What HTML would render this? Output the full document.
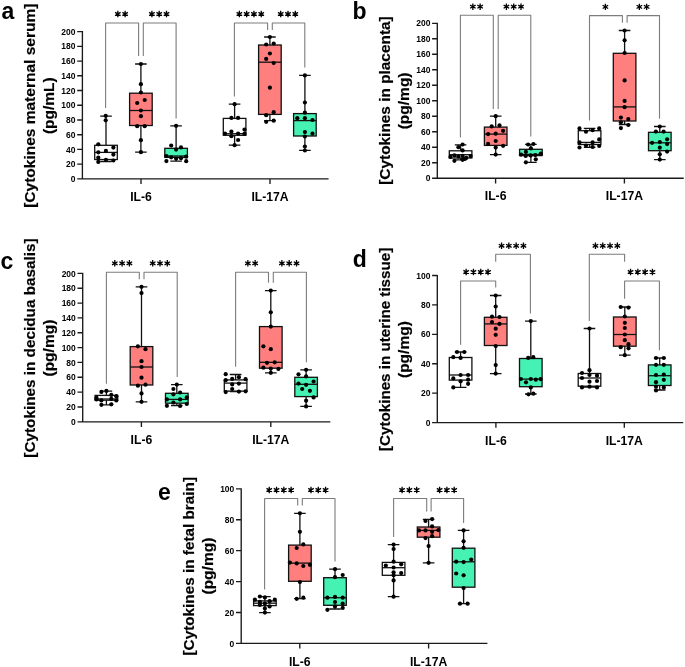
<!DOCTYPE html>
<html><head><meta charset="utf-8"><style>
html,body{margin:0;padding:0;background:#fff;width:685px;height:667px;overflow:hidden}
svg{display:block;will-change:transform}
text{font-family:"Liberation Sans", sans-serif;font-weight:bold;fill:#000}
.L{font-size:23px}
.Y{font-size:15.35px;text-anchor:middle;stroke:#000;stroke-width:0.18px}
.T{font-size:8.5px;text-anchor:end}
.X{font-size:12.2px;text-anchor:middle}
.ax{fill:none;stroke:#1a1a1a;stroke-width:1.35}
.br{fill:none;stroke:#7c7c7c;stroke-width:1.1;stroke-linejoin:round}
.st{fill:none;stroke:#000;stroke-width:1.3;stroke-linecap:butt}
.wk{fill:none;stroke:#111;stroke-width:1.3}
.bx{stroke:#111;stroke-width:1.3}
circle{fill:#000}
</style></head><body>
<svg width="685" height="667" viewBox="0 0 685 667">
<text x="1.6" y="18.6" class="L">a</text>
<text transform="translate(35,105.75) rotate(-90)" class="Y" style="font-size:15.5px">[Cytokines maternal serum]</text>
<text transform="translate(54.2,105.7) rotate(-90)" class="Y" style="font-size:15.5px">(pg/mL)</text>
<text transform="translate(75.5,182) scale(1,1.12)" class="T">0</text>
<text transform="translate(75.5,167.27) scale(1,1.12)" class="T">20</text>
<text transform="translate(75.5,152.54) scale(1,1.12)" class="T">40</text>
<text transform="translate(75.5,137.81) scale(1,1.12)" class="T">60</text>
<text transform="translate(75.5,123.08) scale(1,1.12)" class="T">80</text>
<text transform="translate(75.5,108.35) scale(1,1.12)" class="T">100</text>
<text transform="translate(75.5,93.62) scale(1,1.12)" class="T">120</text>
<text transform="translate(75.5,78.89) scale(1,1.12)" class="T">140</text>
<text transform="translate(75.5,64.16) scale(1,1.12)" class="T">160</text>
<text transform="translate(75.5,49.43) scale(1,1.12)" class="T">180</text>
<text transform="translate(75.5,34.7) scale(1,1.12)" class="T">200</text>
<text x="141" y="201" class="X">IL-6</text>
<text x="270" y="201" class="X">IL-17A</text>
<path d="M77.2 178.9H82.4M77.2 164.17H82.4M77.2 149.44H82.4M77.2 134.71H82.4M77.2 119.98H82.4M77.2 105.25H82.4M77.2 90.52H82.4M77.2 75.79H82.4M77.2 61.06H82.4M77.2 46.33H82.4M77.2 31.6H82.4M82.4 31V178.9M77.2 178.9H328.6M141 178.9V184.1M270 178.9V184.1" class="ax"/>
<path d="M105.6 108V23H138.6V56.1M143.3 56.1V23H176.1V118.4M234.4 96.6V23H267.6V30M272.3 30V23H304.8V67.4" class="br"/>
<path d="M117.85 10.8L117.85 17.2M115.08 12.4L120.62 15.6M115.08 15.6L120.62 12.4M125.15 10.8L125.15 17.2M122.38 12.4L127.92 15.6M122.38 15.6L127.92 12.4M151.9 10.8L151.9 17.2M149.13 12.4L154.67 15.6M149.13 15.6L154.67 12.4M159.2 10.8L159.2 17.2M156.43 12.4L161.97 15.6M156.43 15.6L161.97 12.4M166.5 10.8L166.5 17.2M163.73 12.4L169.27 15.6M163.73 15.6L169.27 12.4M239.35 10.8L239.35 17.2M236.58 12.4L242.12 15.6M236.58 15.6L242.12 12.4M246.65 10.8L246.65 17.2M243.88 12.4L249.42 15.6M243.88 15.6L249.42 12.4M253.95 10.8L253.95 17.2M251.18 12.4L256.72 15.6M251.18 15.6L256.72 12.4M261.25 10.8L261.25 17.2M258.48 12.4L264.02 15.6M258.48 15.6L264.02 12.4M280.7 10.8L280.7 17.2M277.93 12.4L283.47 15.6M277.93 15.6L283.47 12.4M288 10.8L288 17.2M285.23 12.4L290.77 15.6M285.23 15.6L290.77 12.4M295.3 10.8L295.3 17.2M292.53 12.4L298.07 15.6M292.53 15.6L298.07 12.4" class="st"/>
<circle cx="117.85" cy="14" r="1.05"/>
<circle cx="125.15" cy="14" r="1.05"/>
<circle cx="151.9" cy="14" r="1.05"/>
<circle cx="159.2" cy="14" r="1.05"/>
<circle cx="166.5" cy="14" r="1.05"/>
<circle cx="239.35" cy="14" r="1.05"/>
<circle cx="246.65" cy="14" r="1.05"/>
<circle cx="253.95" cy="14" r="1.05"/>
<circle cx="261.25" cy="14" r="1.05"/>
<circle cx="280.7" cy="14" r="1.05"/>
<circle cx="288" cy="14" r="1.05"/>
<circle cx="295.3" cy="14" r="1.05"/>
<path d="M106 116.2V145.3M106 159.5V161.5M100.2 116.2H111.8M100.2 161.5H111.8" class="wk"/>
<rect x="94.7" y="145.3" width="22.6" height="14.2" fill="#FFFFFF" class="bx"/>
<path d="M94.7 152.4H117.3" class="wk"/>
<circle cx="105.7" cy="115.8" r="2.1"/>
<circle cx="105.7" cy="120.3" r="2.1"/>
<circle cx="98.3" cy="144.3" r="2.1"/>
<circle cx="113.4" cy="147.6" r="2.1"/>
<circle cx="98.3" cy="152.3" r="2.1"/>
<circle cx="105.9" cy="150.9" r="2.1"/>
<circle cx="113.4" cy="154.6" r="2.1"/>
<circle cx="98.3" cy="157.5" r="2.1"/>
<circle cx="98.3" cy="161.9" r="2.1"/>
<circle cx="105.9" cy="159.8" r="2.1"/>
<circle cx="113.4" cy="160.5" r="2.1"/>
<path d="M140.9 64V93.2M140.9 125.5V152.2M135.1 64H146.7M135.1 152.2H146.7" class="wk"/>
<rect x="129.6" y="93.2" width="22.6" height="32.3" fill="#FF7F7F" class="bx"/>
<path d="M129.6 110.5H152.2" class="wk"/>
<circle cx="140.9" cy="64" r="2.1"/>
<circle cx="140.9" cy="84.2" r="2.1"/>
<circle cx="140.9" cy="92.5" r="2.1"/>
<circle cx="137.2" cy="103" r="2.1"/>
<circle cx="144.7" cy="100" r="2.1"/>
<circle cx="140.9" cy="110.5" r="2.1"/>
<circle cx="140.9" cy="116.2" r="2.1"/>
<circle cx="137.2" cy="126.2" r="2.1"/>
<circle cx="144.7" cy="126.2" r="2.1"/>
<circle cx="140.9" cy="140.2" r="2.1"/>
<circle cx="140.9" cy="152.2" r="2.1"/>
<path d="M176.1 125.8V148.3M176.1 157.4V161.2M170.3 125.8H181.9M170.3 161.2H181.9" class="wk"/>
<rect x="164.8" y="148.3" width="22.6" height="9.1" fill="#45F2B3" class="bx"/>
<path d="M164.8 156H187.4" class="wk"/>
<circle cx="176.1" cy="125.8" r="2.1"/>
<circle cx="171.2" cy="145.5" r="2.1"/>
<circle cx="181" cy="147.4" r="2.1"/>
<circle cx="176.1" cy="149.6" r="2.1"/>
<circle cx="166.4" cy="156" r="2.1"/>
<circle cx="171.2" cy="157.3" r="2.1"/>
<circle cx="176.1" cy="158.6" r="2.1"/>
<circle cx="181" cy="158.2" r="2.1"/>
<circle cx="186.2" cy="156.7" r="2.1"/>
<circle cx="166.4" cy="161.1" r="2.1"/>
<circle cx="186.2" cy="161.2" r="2.1"/>
<path d="M234.6 104.2V118.4M234.6 135.3V145.2M228.8 104.2H240.4M228.8 145.2H240.4" class="wk"/>
<rect x="223.3" y="118.4" width="22.6" height="16.9" fill="#FFFFFF" class="bx"/>
<path d="M223.3 133.7H245.9" class="wk"/>
<circle cx="234.6" cy="104.2" r="2.1"/>
<circle cx="231.4" cy="117.9" r="2.1"/>
<circle cx="238.1" cy="117.9" r="2.1"/>
<circle cx="244.5" cy="129.6" r="2.1"/>
<circle cx="225" cy="133.5" r="2.1"/>
<circle cx="231.4" cy="131.5" r="2.1"/>
<circle cx="238.1" cy="133.5" r="2.1"/>
<circle cx="244.5" cy="133.9" r="2.1"/>
<circle cx="231.4" cy="136.2" r="2.1"/>
<circle cx="238.1" cy="140" r="2.1"/>
<circle cx="234.6" cy="145.2" r="2.1"/>
<path d="M269.9 37V45M269.9 114.4V120.7M264.1 37H275.7M264.1 120.7H275.7" class="wk"/>
<rect x="258.6" y="45" width="22.6" height="69.4" fill="#FF7F7F" class="bx"/>
<path d="M258.6 62.2H281.2" class="wk"/>
<circle cx="269.9" cy="37" r="2.1"/>
<circle cx="266.2" cy="44.5" r="2.1"/>
<circle cx="273.7" cy="43.5" r="2.1"/>
<circle cx="269.9" cy="53.5" r="2.1"/>
<circle cx="266.2" cy="58.9" r="2.1"/>
<circle cx="273.7" cy="63" r="2.1"/>
<circle cx="269.9" cy="87.7" r="2.1"/>
<circle cx="273.7" cy="112.2" r="2.1"/>
<circle cx="266.2" cy="115.2" r="2.1"/>
<circle cx="266.2" cy="121.8" r="2.1"/>
<circle cx="273.7" cy="120.7" r="2.1"/>
<path d="M304.9 75.4V113.6M304.9 136V150.3M299.1 75.4H310.7M299.1 150.3H310.7" class="wk"/>
<rect x="293.6" y="113.6" width="22.6" height="22.4" fill="#45F2B3" class="bx"/>
<path d="M293.6 120.6H316.2" class="wk"/>
<circle cx="304.9" cy="75.4" r="2.1"/>
<circle cx="304.9" cy="102.5" r="2.1"/>
<circle cx="304.9" cy="112.7" r="2.1"/>
<circle cx="297.3" cy="118.2" r="2.1"/>
<circle cx="304.9" cy="118.2" r="2.1"/>
<circle cx="312.5" cy="120" r="2.1"/>
<circle cx="304.9" cy="132.1" r="2.1"/>
<circle cx="312.5" cy="133.7" r="2.1"/>
<circle cx="304.9" cy="136.5" r="2.1"/>
<circle cx="304.9" cy="146.5" r="2.1"/>
<circle cx="304.9" cy="150.5" r="2.1"/>
<text x="352.6" y="18.8" class="L">b</text>
<text transform="translate(389.7,100.55) rotate(-90)" class="Y" style="font-size:15.4px">[Cytokines in placenta]</text>
<text transform="translate(408.8,100.9) rotate(-90)" class="Y" style="font-size:15.5px">(pg/mg)</text>
<text transform="translate(430.4,181.3) scale(1,1.12)" class="T">0</text>
<text transform="translate(430.4,165.81) scale(1,1.12)" class="T">20</text>
<text transform="translate(430.4,150.32) scale(1,1.12)" class="T">40</text>
<text transform="translate(430.4,134.83) scale(1,1.12)" class="T">60</text>
<text transform="translate(430.4,119.34) scale(1,1.12)" class="T">80</text>
<text transform="translate(430.4,103.85) scale(1,1.12)" class="T">100</text>
<text transform="translate(430.4,88.36) scale(1,1.12)" class="T">120</text>
<text transform="translate(430.4,72.87) scale(1,1.12)" class="T">140</text>
<text transform="translate(430.4,57.38) scale(1,1.12)" class="T">160</text>
<text transform="translate(430.4,41.89) scale(1,1.12)" class="T">180</text>
<text transform="translate(430.4,26.4) scale(1,1.12)" class="T">200</text>
<text x="495.6" y="200.3" class="X">IL-6</text>
<text x="624.4" y="200.3" class="X">IL-17A</text>
<path d="M432.1 178.2H437.3M432.1 162.71H437.3M432.1 147.22H437.3M432.1 131.73H437.3M432.1 116.24H437.3M432.1 100.75H437.3M432.1 85.26H437.3M432.1 69.77H437.3M432.1 54.28H437.3M432.1 38.79H437.3M432.1 23.3H437.3M437.3 22.7V178.2M432.1 178.2H683.7M495.6 178.2V183.4M624.4 178.2V183.4" class="ax"/>
<path d="M460.4 137.6V15.3H493.3V108.9M498.2 108.9V15.3H530.8V136.6M589.5 120.6V15.6H622.4V22.7M627.1 22.7V15.6H659.5V118.8" class="br"/>
<path d="M472.85 3.5L472.85 9.9M470.08 5.1L475.62 8.3M470.08 8.3L475.62 5.1M480.15 3.5L480.15 9.9M477.38 5.1L482.92 8.3M477.38 8.3L482.92 5.1M506.4 3.5L506.4 9.9M503.63 5.1L509.17 8.3M503.63 8.3L509.17 5.1M513.7 3.5L513.7 9.9M510.93 5.1L516.47 8.3M510.93 8.3L516.47 5.1M521 3.5L521 9.9M518.23 5.1L523.77 8.3M518.23 8.3L523.77 5.1M605.4 3.7L605.4 10.1M602.63 5.3L608.17 8.5M602.63 8.5L608.17 5.3M639.35 3.7L639.35 10.1M636.58 5.3L642.12 8.5M636.58 8.5L642.12 5.3M646.65 3.7L646.65 10.1M643.88 5.3L649.42 8.5M643.88 8.5L649.42 5.3" class="st"/>
<circle cx="472.85" cy="6.7" r="1.05"/>
<circle cx="480.15" cy="6.7" r="1.05"/>
<circle cx="506.4" cy="6.7" r="1.05"/>
<circle cx="513.7" cy="6.7" r="1.05"/>
<circle cx="521" cy="6.7" r="1.05"/>
<circle cx="605.4" cy="6.9" r="1.05"/>
<circle cx="639.35" cy="6.9" r="1.05"/>
<circle cx="646.65" cy="6.9" r="1.05"/>
<path d="M460.6 144.8V150.8M460.6 158V159.9M454.8 144.8H466.4M454.8 159.9H466.4" class="wk"/>
<rect x="449.3" y="150.8" width="22.6" height="7.2" fill="#FFFFFF" class="bx"/>
<path d="M449.3 154.7H471.9" class="wk"/>
<circle cx="462.6" cy="144.5" r="2.1"/>
<circle cx="458.4" cy="147.2" r="2.1"/>
<circle cx="462.6" cy="150.4" r="2.1"/>
<circle cx="450.5" cy="156.9" r="2.1"/>
<circle cx="454.4" cy="155.4" r="2.1"/>
<circle cx="458.4" cy="156.6" r="2.1"/>
<circle cx="462.6" cy="155.9" r="2.1"/>
<circle cx="466.3" cy="157.9" r="2.1"/>
<circle cx="470.6" cy="156.1" r="2.1"/>
<circle cx="454.4" cy="160.8" r="2.1"/>
<circle cx="462.6" cy="159.8" r="2.1"/>
<circle cx="464.8" cy="158.8" r="2.1"/>
<path d="M495.7 116.2V127.1M495.7 145.4V154.6M489.9 116.2H501.5M489.9 154.6H501.5" class="wk"/>
<rect x="484.4" y="127.1" width="22.6" height="18.3" fill="#FF7F7F" class="bx"/>
<path d="M484.4 134.1H507" class="wk"/>
<circle cx="495.7" cy="116.2" r="2.1"/>
<circle cx="491.7" cy="126.4" r="2.1"/>
<circle cx="499.5" cy="125.4" r="2.1"/>
<circle cx="503.1" cy="130.8" r="2.1"/>
<circle cx="488.1" cy="134.1" r="2.1"/>
<circle cx="495.7" cy="133.7" r="2.1"/>
<circle cx="495.7" cy="141" r="2.1"/>
<circle cx="488.1" cy="143.9" r="2.1"/>
<circle cx="503.1" cy="145.8" r="2.1"/>
<circle cx="495.7" cy="147.6" r="2.1"/>
<circle cx="495.7" cy="154.6" r="2.1"/>
<path d="M530.9 144.4V149.3M530.9 155.6V162.3M525.1 144.4H536.7M525.1 162.3H536.7" class="wk"/>
<rect x="519.6" y="149.3" width="22.6" height="6.3" fill="#45F2B3" class="bx"/>
<path d="M519.6 154.5H542.2" class="wk"/>
<circle cx="528.1" cy="144.5" r="2.1"/>
<circle cx="533.4" cy="144" r="2.1"/>
<circle cx="530.9" cy="148.4" r="2.1"/>
<circle cx="525.9" cy="151.9" r="2.1"/>
<circle cx="521" cy="154.6" r="2.1"/>
<circle cx="525.7" cy="155.9" r="2.1"/>
<circle cx="530.6" cy="155.4" r="2.1"/>
<circle cx="535.3" cy="155.1" r="2.1"/>
<circle cx="540.8" cy="153.6" r="2.1"/>
<circle cx="535.8" cy="159.3" r="2.1"/>
<circle cx="525.9" cy="162.3" r="2.1"/>
<path d="M589.6 128.4V130.7M589.6 144.5V147.3M583.8 128.4H595.4M583.8 147.3H595.4" class="wk"/>
<rect x="578.3" y="130.7" width="22.6" height="13.8" fill="#FFFFFF" class="bx"/>
<path d="M578.3 142.4H600.9" class="wk"/>
<circle cx="579.5" cy="128.4" r="2.1"/>
<circle cx="599.2" cy="128.4" r="2.1"/>
<circle cx="586" cy="131.7" r="2.1"/>
<circle cx="592.6" cy="130.2" r="2.1"/>
<circle cx="599.2" cy="139.4" r="2.1"/>
<circle cx="579.5" cy="142.4" r="2.1"/>
<circle cx="592.6" cy="142.4" r="2.1"/>
<circle cx="579.5" cy="147.5" r="2.1"/>
<circle cx="586" cy="145.5" r="2.1"/>
<circle cx="592.6" cy="147" r="2.1"/>
<circle cx="599.2" cy="146" r="2.1"/>
<path d="M624.6 30.5V53.3M624.6 121V124.5M618.8 30.5H630.4M618.8 124.5H630.4" class="wk"/>
<rect x="613.3" y="53.3" width="22.6" height="67.7" fill="#FF7F7F" class="bx"/>
<path d="M613.3 106.9H635.9" class="wk"/>
<circle cx="624.6" cy="30.5" r="2.1"/>
<circle cx="624.6" cy="40.3" r="2.1"/>
<circle cx="624.6" cy="53" r="2.1"/>
<circle cx="624.6" cy="80.4" r="2.1"/>
<circle cx="624.6" cy="100.9" r="2.1"/>
<circle cx="624.6" cy="107.2" r="2.1"/>
<circle cx="620.9" cy="117.6" r="2.1"/>
<circle cx="628.3" cy="119.1" r="2.1"/>
<circle cx="620.9" cy="122.3" r="2.1"/>
<circle cx="628.3" cy="125" r="2.1"/>
<circle cx="620.9" cy="128.1" r="2.1"/>
<path d="M659.8 126.5V132.3M659.8 150.7V159.6M654 126.5H665.6M654 159.6H665.6" class="wk"/>
<rect x="648.5" y="132.3" width="22.6" height="18.4" fill="#45F2B3" class="bx"/>
<path d="M648.5 142.8H671.1" class="wk"/>
<circle cx="659.8" cy="126.5" r="2.1"/>
<circle cx="655.9" cy="131.6" r="2.1"/>
<circle cx="663.6" cy="131.6" r="2.1"/>
<circle cx="667.1" cy="139.3" r="2.1"/>
<circle cx="652.1" cy="142.8" r="2.1"/>
<circle cx="659.8" cy="142.1" r="2.1"/>
<circle cx="667.1" cy="144.1" r="2.1"/>
<circle cx="659.8" cy="147.7" r="2.1"/>
<circle cx="667.1" cy="151.6" r="2.1"/>
<circle cx="659.8" cy="154.3" r="2.1"/>
<circle cx="659.8" cy="159.6" r="2.1"/>
<text x="0.6" y="268.8" class="L">c</text>
<text transform="translate(35.3,348.05) rotate(-90)" class="Y" style="font-size:15.3px">[Cytokines in decidua basalis]</text>
<text transform="translate(54.1,348.1) rotate(-90)" class="Y" style="font-size:15.5px">(pg/mg)</text>
<text transform="translate(75.8,424.9) scale(1,1.12)" class="T">0</text>
<text transform="translate(75.8,410.06) scale(1,1.12)" class="T">20</text>
<text transform="translate(75.8,395.22) scale(1,1.12)" class="T">40</text>
<text transform="translate(75.8,380.38) scale(1,1.12)" class="T">60</text>
<text transform="translate(75.8,365.54) scale(1,1.12)" class="T">80</text>
<text transform="translate(75.8,350.7) scale(1,1.12)" class="T">100</text>
<text transform="translate(75.8,335.86) scale(1,1.12)" class="T">120</text>
<text transform="translate(75.8,321.02) scale(1,1.12)" class="T">140</text>
<text transform="translate(75.8,306.18) scale(1,1.12)" class="T">160</text>
<text transform="translate(75.8,291.34) scale(1,1.12)" class="T">180</text>
<text transform="translate(75.8,276.5) scale(1,1.12)" class="T">200</text>
<text x="141.4" y="443.9" class="X">IL-6</text>
<text x="270.8" y="443.9" class="X">IL-17A</text>
<path d="M77.5 421.8H82.7M77.5 406.96H82.7M77.5 392.12H82.7M77.5 377.28H82.7M77.5 362.44H82.7M77.5 347.6H82.7M77.5 332.76H82.7M77.5 317.92H82.7M77.5 303.08H82.7M77.5 288.24H82.7M77.5 273.4H82.7M82.7 272.8V421.8M77.5 421.8H330.3M141.4 421.8V427M270.8 421.8V427" class="ax"/>
<path d="M106.4 383.8V272.2H139.3V279.2M144 279.2V272.2H177.2V377M235.6 366.7V272.2H268.5V282.8M273.3 282.8V272.2H306.4V362.3" class="br"/>
<path d="M114.8 260.1L114.8 266.5M112.03 261.7L117.57 264.9M112.03 264.9L117.57 261.7M122.1 260.1L122.1 266.5M119.33 261.7L124.87 264.9M119.33 264.9L124.87 261.7M129.4 260.1L129.4 266.5M126.63 261.7L132.17 264.9M126.63 264.9L132.17 261.7M152.7 260.1L152.7 266.5M149.93 261.7L155.47 264.9M149.93 264.9L155.47 261.7M160 260.1L160 266.5M157.23 261.7L162.77 264.9M157.23 264.9L162.77 261.7M167.3 260.1L167.3 266.5M164.53 261.7L170.07 264.9M164.53 264.9L170.07 261.7M247.85 260.1L247.85 266.5M245.08 261.7L250.62 264.9M245.08 264.9L250.62 261.7M255.15 260.1L255.15 266.5M252.38 261.7L257.92 264.9M252.38 264.9L257.92 261.7M281.9 260.1L281.9 266.5M279.13 261.7L284.67 264.9M279.13 264.9L284.67 261.7M289.2 260.1L289.2 266.5M286.43 261.7L291.97 264.9M286.43 264.9L291.97 261.7M296.5 260.1L296.5 266.5M293.73 261.7L299.27 264.9M293.73 264.9L299.27 261.7" class="st"/>
<circle cx="114.8" cy="263.3" r="1.05"/>
<circle cx="122.1" cy="263.3" r="1.05"/>
<circle cx="129.4" cy="263.3" r="1.05"/>
<circle cx="152.7" cy="263.3" r="1.05"/>
<circle cx="160" cy="263.3" r="1.05"/>
<circle cx="167.3" cy="263.3" r="1.05"/>
<circle cx="247.85" cy="263.3" r="1.05"/>
<circle cx="255.15" cy="263.3" r="1.05"/>
<circle cx="281.9" cy="263.3" r="1.05"/>
<circle cx="289.2" cy="263.3" r="1.05"/>
<circle cx="296.5" cy="263.3" r="1.05"/>
<path d="M106.4 391.2V395.4M106.4 400.2V404.8M100.6 391.2H112.2M100.6 404.8H112.2" class="wk"/>
<rect x="95.1" y="395.4" width="22.6" height="4.8" fill="#FFFFFF" class="bx"/>
<path d="M95.1 399H117.7" class="wk"/>
<circle cx="101.4" cy="391.9" r="2.1"/>
<circle cx="106.4" cy="390.9" r="2.1"/>
<circle cx="111.3" cy="394.9" r="2.1"/>
<circle cx="116.3" cy="396.2" r="2.1"/>
<circle cx="96.5" cy="397.9" r="2.1"/>
<circle cx="96.5" cy="399.4" r="2.1"/>
<circle cx="111.3" cy="398.9" r="2.1"/>
<circle cx="116.3" cy="400.4" r="2.1"/>
<circle cx="101.4" cy="404.8" r="2.1"/>
<circle cx="111.3" cy="404.3" r="2.1"/>
<circle cx="101.4" cy="400.4" r="2.1"/>
<path d="M141.5 286.8V346.6M141.5 385V401.8M135.7 286.8H147.3M135.7 401.8H147.3" class="wk"/>
<rect x="130.2" y="346.6" width="22.6" height="38.4" fill="#FF7F7F" class="bx"/>
<path d="M130.2 367H152.8" class="wk"/>
<circle cx="141.5" cy="286.8" r="2.1"/>
<circle cx="141.5" cy="293.1" r="2.1"/>
<circle cx="137.9" cy="346.3" r="2.1"/>
<circle cx="145.5" cy="349.2" r="2.1"/>
<circle cx="141.5" cy="361.2" r="2.1"/>
<circle cx="141.5" cy="367" r="2.1"/>
<circle cx="141.5" cy="377.7" r="2.1"/>
<circle cx="137.9" cy="385.7" r="2.1"/>
<circle cx="145.5" cy="384.7" r="2.1"/>
<circle cx="141.5" cy="393.4" r="2.1"/>
<circle cx="141.5" cy="401.8" r="2.1"/>
<path d="M176.8 384.6V393.3M176.8 403.2V405.5M171 384.6H182.6M171 405.5H182.6" class="wk"/>
<rect x="165.5" y="393.3" width="22.6" height="9.9" fill="#45F2B3" class="bx"/>
<path d="M165.5 399.4H188.1" class="wk"/>
<circle cx="176.8" cy="384.6" r="2.1"/>
<circle cx="173.4" cy="389" r="2.1"/>
<circle cx="180.1" cy="392.5" r="2.1"/>
<circle cx="173.4" cy="394.3" r="2.1"/>
<circle cx="186.8" cy="397.4" r="2.1"/>
<circle cx="166.9" cy="399.4" r="2.1"/>
<circle cx="180.1" cy="399.4" r="2.1"/>
<circle cx="173.4" cy="402.5" r="2.1"/>
<circle cx="166.9" cy="405.8" r="2.1"/>
<circle cx="180.1" cy="406" r="2.1"/>
<circle cx="186.8" cy="404" r="2.1"/>
<path d="M235.6 374.5V379.9M235.6 391.1V391.6M229.8 374.5H241.4M229.8 391.6H241.4" class="wk"/>
<rect x="224.3" y="379.9" width="22.6" height="11.2" fill="#FFFFFF" class="bx"/>
<path d="M224.3 383.1H246.9" class="wk"/>
<circle cx="225.7" cy="374.2" r="2.1"/>
<circle cx="225.7" cy="380.2" r="2.1"/>
<circle cx="232.2" cy="378.9" r="2.1"/>
<circle cx="238.9" cy="377.2" r="2.1"/>
<circle cx="245.6" cy="379.2" r="2.1"/>
<circle cx="238.9" cy="383.6" r="2.1"/>
<circle cx="232.2" cy="384.4" r="2.1"/>
<circle cx="232.2" cy="389.1" r="2.1"/>
<circle cx="225.7" cy="392.1" r="2.1"/>
<circle cx="238.9" cy="391.6" r="2.1"/>
<circle cx="245.6" cy="391.3" r="2.1"/>
<path d="M270.8 290.6V326.6M270.8 368.2V372.8M265 290.6H276.6M265 372.8H276.6" class="wk"/>
<rect x="259.5" y="326.6" width="22.6" height="41.6" fill="#FF7F7F" class="bx"/>
<path d="M259.5 362.3H282.1" class="wk"/>
<circle cx="270.8" cy="290.6" r="2.1"/>
<circle cx="270.8" cy="312.3" r="2.1"/>
<circle cx="270.8" cy="326.6" r="2.1"/>
<circle cx="263.4" cy="346.3" r="2.1"/>
<circle cx="270.8" cy="349.2" r="2.1"/>
<circle cx="267" cy="362.8" r="2.1"/>
<circle cx="274.7" cy="362.3" r="2.1"/>
<circle cx="263.4" cy="367.7" r="2.1"/>
<circle cx="270.8" cy="368.6" r="2.1"/>
<circle cx="278.4" cy="368.9" r="2.1"/>
<circle cx="270.8" cy="372.8" r="2.1"/>
<path d="M306.1 369.8V377.3M306.1 396.6V406.4M300.3 369.8H311.9M300.3 406.4H311.9" class="wk"/>
<rect x="294.8" y="377.3" width="22.6" height="19.3" fill="#45F2B3" class="bx"/>
<path d="M294.8 384.3H317.4" class="wk"/>
<circle cx="306.1" cy="369.8" r="2.1"/>
<circle cx="298.5" cy="374.3" r="2.1"/>
<circle cx="306.1" cy="376.4" r="2.1"/>
<circle cx="313.6" cy="381.5" r="2.1"/>
<circle cx="298.5" cy="383.6" r="2.1"/>
<circle cx="306.1" cy="384.8" r="2.1"/>
<circle cx="302.2" cy="389" r="2.1"/>
<circle cx="309.9" cy="390.8" r="2.1"/>
<circle cx="313.6" cy="397.4" r="2.1"/>
<circle cx="306.1" cy="400.7" r="2.1"/>
<circle cx="306.1" cy="406.4" r="2.1"/>
<text x="352.8" y="267.4" class="L">d</text>
<text transform="translate(389.5,349.4) rotate(-90)" class="Y" style="font-size:15.2px">[Cytokines in uterine tissue]</text>
<text transform="translate(408.8,349.6) rotate(-90)" class="Y" style="font-size:15.5px">(pg/mg)</text>
<text transform="translate(430.4,425.7) scale(1,1.12)" class="T">0</text>
<text transform="translate(430.4,396.28) scale(1,1.12)" class="T">20</text>
<text transform="translate(430.4,366.86) scale(1,1.12)" class="T">40</text>
<text transform="translate(430.4,337.44) scale(1,1.12)" class="T">60</text>
<text transform="translate(430.4,308.02) scale(1,1.12)" class="T">80</text>
<text transform="translate(430.4,278.6) scale(1,1.12)" class="T">100</text>
<text x="495.9" y="444.7" class="X">IL-6</text>
<text x="624.3" y="444.7" class="X">IL-17A</text>
<path d="M432.1 422.6H437.3M432.1 393.18H437.3M432.1 363.76H437.3M432.1 334.34H437.3M432.1 304.92H437.3M432.1 275.5H437.3M437.3 274.9V422.6M432.1 422.6H683.2M495.9 422.6V427.8M624.3 422.6V427.8" class="ax"/>
<path d="M460.6 344.7V281H495.7V287.6M495.7 261.7V254.3H530.4V313.6M589.3 321V254.3H624.6V261.7M624.6 298.8V281H659.4V350.2" class="br"/>
<path d="M466.15 268.8L466.15 275.2M463.38 270.4L468.92 273.6M463.38 273.6L468.92 270.4M473.45 268.8L473.45 275.2M470.68 270.4L476.22 273.6M470.68 273.6L476.22 270.4M480.75 268.8L480.75 275.2M477.98 270.4L483.52 273.6M477.98 273.6L483.52 270.4M488.05 268.8L488.05 275.2M485.28 270.4L490.82 273.6M485.28 273.6L490.82 270.4M501.55 242.6L501.55 249M498.78 244.2L504.32 247.4M498.78 247.4L504.32 244.2M508.85 242.6L508.85 249M506.08 244.2L511.62 247.4M506.08 247.4L511.62 244.2M516.15 242.6L516.15 249M513.38 244.2L518.92 247.4M513.38 247.4L518.92 244.2M523.45 242.6L523.45 249M520.68 244.2L526.22 247.4M520.68 247.4L526.22 244.2M595.45 242.6L595.45 249M592.68 244.2L598.22 247.4M592.68 247.4L598.22 244.2M602.75 242.6L602.75 249M599.98 244.2L605.52 247.4M599.98 247.4L605.52 244.2M610.05 242.6L610.05 249M607.28 244.2L612.82 247.4M607.28 247.4L612.82 244.2M617.35 242.6L617.35 249M614.58 244.2L620.12 247.4M614.58 247.4L620.12 244.2M630.55 268.8L630.55 275.2M627.78 270.4L633.32 273.6M627.78 273.6L633.32 270.4M637.85 268.8L637.85 275.2M635.08 270.4L640.62 273.6M635.08 273.6L640.62 270.4M645.15 268.8L645.15 275.2M642.38 270.4L647.92 273.6M642.38 273.6L647.92 270.4M652.45 268.8L652.45 275.2M649.68 270.4L655.22 273.6M649.68 273.6L655.22 270.4" class="st"/>
<circle cx="466.15" cy="272" r="1.05"/>
<circle cx="473.45" cy="272" r="1.05"/>
<circle cx="480.75" cy="272" r="1.05"/>
<circle cx="488.05" cy="272" r="1.05"/>
<circle cx="501.55" cy="245.8" r="1.05"/>
<circle cx="508.85" cy="245.8" r="1.05"/>
<circle cx="516.15" cy="245.8" r="1.05"/>
<circle cx="523.45" cy="245.8" r="1.05"/>
<circle cx="595.45" cy="245.8" r="1.05"/>
<circle cx="602.75" cy="245.8" r="1.05"/>
<circle cx="610.05" cy="245.8" r="1.05"/>
<circle cx="617.35" cy="245.8" r="1.05"/>
<circle cx="630.55" cy="272" r="1.05"/>
<circle cx="637.85" cy="272" r="1.05"/>
<circle cx="645.15" cy="272" r="1.05"/>
<circle cx="652.45" cy="272" r="1.05"/>
<path d="M460.6 352V357.5M460.6 380.1V387.4M454.8 352H466.4M454.8 387.4H466.4" class="wk"/>
<rect x="449.3" y="357.5" width="22.6" height="22.6" fill="#FFFFFF" class="bx"/>
<path d="M449.3 375H471.9" class="wk"/>
<circle cx="457" cy="352" r="2.1"/>
<circle cx="464.3" cy="352" r="2.1"/>
<circle cx="453.3" cy="357.2" r="2.1"/>
<circle cx="460.6" cy="357.9" r="2.1"/>
<circle cx="460.6" cy="375" r="2.1"/>
<circle cx="468.1" cy="375" r="2.1"/>
<circle cx="453.3" cy="378.4" r="2.1"/>
<circle cx="460.6" cy="381.3" r="2.1"/>
<circle cx="468.1" cy="379.7" r="2.1"/>
<circle cx="468.1" cy="383.8" r="2.1"/>
<circle cx="453.3" cy="387.4" r="2.1"/>
<path d="M495.7 295.5V317.3M495.7 345.5V373.6M489.9 295.5H501.5M489.9 373.6H501.5" class="wk"/>
<rect x="484.4" y="317.3" width="22.6" height="28.2" fill="#FF7F7F" class="bx"/>
<path d="M484.4 323.9H507" class="wk"/>
<circle cx="495.7" cy="295.5" r="2.1"/>
<circle cx="495.7" cy="306.5" r="2.1"/>
<circle cx="492" cy="316.7" r="2.1"/>
<circle cx="499.5" cy="317" r="2.1"/>
<circle cx="492" cy="322.1" r="2.1"/>
<circle cx="499.5" cy="323.9" r="2.1"/>
<circle cx="495.7" cy="328.7" r="2.1"/>
<circle cx="495.7" cy="334.8" r="2.1"/>
<circle cx="495.7" cy="346.1" r="2.1"/>
<circle cx="495.7" cy="365.1" r="2.1"/>
<circle cx="495.7" cy="373.6" r="2.1"/>
<path d="M530.8 321.1V358.5M530.8 386.7V394M525 321.1H536.6M525 394H536.6" class="wk"/>
<rect x="519.5" y="358.5" width="22.6" height="28.2" fill="#45F2B3" class="bx"/>
<path d="M519.5 379.1H542.1" class="wk"/>
<circle cx="530.8" cy="321.1" r="2.1"/>
<circle cx="528.2" cy="357.9" r="2.1"/>
<circle cx="533.3" cy="357.2" r="2.1"/>
<circle cx="520.9" cy="379" r="2.1"/>
<circle cx="530.8" cy="379" r="2.1"/>
<circle cx="535.8" cy="379.7" r="2.1"/>
<circle cx="540.6" cy="379.1" r="2.1"/>
<circle cx="526" cy="382.3" r="2.1"/>
<circle cx="530.8" cy="387.4" r="2.1"/>
<circle cx="528.5" cy="394.3" r="2.1"/>
<circle cx="533.3" cy="393.7" r="2.1"/>
<path d="M589.5 328.5V373.5M589.5 386.2V387M583.7 328.5H595.3M583.7 387H595.3" class="wk"/>
<rect x="578.2" y="373.5" width="22.6" height="12.7" fill="#FFFFFF" class="bx"/>
<path d="M578.2 378H600.8" class="wk"/>
<circle cx="589.5" cy="328.5" r="2.1"/>
<circle cx="589.5" cy="370.2" r="2.1"/>
<circle cx="582" cy="373" r="2.1"/>
<circle cx="589.5" cy="375" r="2.1"/>
<circle cx="597" cy="375.7" r="2.1"/>
<circle cx="582" cy="378" r="2.1"/>
<circle cx="589.5" cy="381.7" r="2.1"/>
<circle cx="597" cy="381" r="2.1"/>
<circle cx="582" cy="387.4" r="2.1"/>
<circle cx="589.5" cy="386.7" r="2.1"/>
<circle cx="597" cy="387.4" r="2.1"/>
<path d="M624.8 307V317M624.8 346.2V355.2M619 307H630.6M619 355.2H630.6" class="wk"/>
<rect x="613.5" y="317" width="22.6" height="29.2" fill="#FF7F7F" class="bx"/>
<path d="M613.5 334.5H636.1" class="wk"/>
<circle cx="620.7" cy="307" r="2.1"/>
<circle cx="628.5" cy="307.6" r="2.1"/>
<circle cx="624.8" cy="316.5" r="2.1"/>
<circle cx="624.8" cy="322.8" r="2.1"/>
<circle cx="624.8" cy="328" r="2.1"/>
<circle cx="624.8" cy="334.5" r="2.1"/>
<circle cx="624.8" cy="340.2" r="2.1"/>
<circle cx="628.5" cy="344.2" r="2.1"/>
<circle cx="620.7" cy="347.2" r="2.1"/>
<circle cx="628.5" cy="348.3" r="2.1"/>
<circle cx="624.8" cy="355.2" r="2.1"/>
<path d="M659.7 358V364.9M659.7 385.5V390M653.9 358H665.5M653.9 390H665.5" class="wk"/>
<rect x="648.4" y="364.9" width="22.6" height="20.6" fill="#45F2B3" class="bx"/>
<path d="M648.4 375.7H671" class="wk"/>
<circle cx="656" cy="358" r="2.1"/>
<circle cx="663.8" cy="358" r="2.1"/>
<circle cx="656" cy="364.8" r="2.1"/>
<circle cx="663.8" cy="364.8" r="2.1"/>
<circle cx="656" cy="375" r="2.1"/>
<circle cx="663.8" cy="374.5" r="2.1"/>
<circle cx="663.8" cy="379.8" r="2.1"/>
<circle cx="656" cy="382.2" r="2.1"/>
<circle cx="656" cy="386.7" r="2.1"/>
<circle cx="663.8" cy="387.4" r="2.1"/>
<circle cx="656" cy="390.4" r="2.1"/>
<text x="157.9" y="499.5" class="L">e</text>
<text transform="translate(194,566.25) rotate(-90)" class="Y" style="font-size:15.3px">[Cytokines in fetal brain]</text>
<text transform="translate(212.8,566.1) rotate(-90)" class="Y" style="font-size:15.5px">(pg/mg)</text>
<text transform="translate(234.3,646.5) scale(1,1.12)" class="T">0</text>
<text transform="translate(234.3,615.58) scale(1,1.12)" class="T">20</text>
<text transform="translate(234.3,584.66) scale(1,1.12)" class="T">40</text>
<text transform="translate(234.3,553.74) scale(1,1.12)" class="T">60</text>
<text transform="translate(234.3,522.82) scale(1,1.12)" class="T">80</text>
<text transform="translate(234.3,491.9) scale(1,1.12)" class="T">100</text>
<text x="299.8" y="665.5" class="X">IL-6</text>
<text x="428.6" y="665.5" class="X">IL-17A</text>
<path d="M236 643.4H241.2M236 612.48H241.2M236 581.56H241.2M236 550.64H241.2M236 519.72H241.2M236 488.8H241.2M241.2 488.2V643.4M236 643.4H487.4M299.8 643.4V648.6M428.6 643.4V648.6" class="ax"/>
<path d="M264.6 589.6V498.5H297.7V505.5M302.3 505.5V498.5H335V561.6M393.6 536.9V498.5H426.7V511.4M431.1 511.4V498.5H463.6V523.1" class="br"/>
<path d="M269.25 486.8L269.25 493.2M266.48 488.4L272.02 491.6M266.48 491.6L272.02 488.4M276.55 486.8L276.55 493.2M273.78 488.4L279.32 491.6M273.78 491.6L279.32 488.4M283.85 486.8L283.85 493.2M281.08 488.4L286.62 491.6M281.08 491.6L286.62 488.4M291.15 486.8L291.15 493.2M288.38 488.4L293.92 491.6M288.38 491.6L293.92 488.4M311 486.8L311 493.2M308.23 488.4L313.77 491.6M308.23 491.6L313.77 488.4M318.3 486.8L318.3 493.2M315.53 488.4L321.07 491.6M315.53 491.6L321.07 488.4M325.6 486.8L325.6 493.2M322.83 488.4L328.37 491.6M322.83 491.6L328.37 488.4M402.1 486.8L402.1 493.2M399.33 488.4L404.87 491.6M399.33 491.6L404.87 488.4M409.4 486.8L409.4 493.2M406.63 488.4L412.17 491.6M406.63 491.6L412.17 488.4M416.7 486.8L416.7 493.2M413.93 488.4L419.47 491.6M413.93 491.6L419.47 488.4M439.6 486.8L439.6 493.2M436.83 488.4L442.37 491.6M436.83 491.6L442.37 488.4M446.9 486.8L446.9 493.2M444.13 488.4L449.67 491.6M444.13 491.6L449.67 488.4M454.2 486.8L454.2 493.2M451.43 488.4L456.97 491.6M451.43 491.6L456.97 488.4" class="st"/>
<circle cx="269.25" cy="490" r="1.05"/>
<circle cx="276.55" cy="490" r="1.05"/>
<circle cx="283.85" cy="490" r="1.05"/>
<circle cx="291.15" cy="490" r="1.05"/>
<circle cx="311" cy="490" r="1.05"/>
<circle cx="318.3" cy="490" r="1.05"/>
<circle cx="325.6" cy="490" r="1.05"/>
<circle cx="402.1" cy="490" r="1.05"/>
<circle cx="409.4" cy="490" r="1.05"/>
<circle cx="416.7" cy="490" r="1.05"/>
<circle cx="439.6" cy="490" r="1.05"/>
<circle cx="446.9" cy="490" r="1.05"/>
<circle cx="454.2" cy="490" r="1.05"/>
<path d="M264.9 596.7V600.9M264.9 605.6V612.6M259.1 596.7H270.7M259.1 612.6H270.7" class="wk"/>
<rect x="253.6" y="600.9" width="22.6" height="4.7" fill="#FFFFFF" class="bx"/>
<path d="M253.6 603.2H276.2" class="wk"/>
<circle cx="259.9" cy="596.5" r="2.1"/>
<circle cx="264.9" cy="597.4" r="2.1"/>
<circle cx="254.9" cy="599.7" r="2.1"/>
<circle cx="274.8" cy="599.7" r="2.1"/>
<circle cx="269.6" cy="601.2" r="2.1"/>
<circle cx="259.9" cy="601.9" r="2.1"/>
<circle cx="264.9" cy="603.4" r="2.1"/>
<circle cx="259.9" cy="604.9" r="2.1"/>
<circle cx="269.6" cy="606.4" r="2.1"/>
<circle cx="264.9" cy="608.4" r="2.1"/>
<circle cx="264.9" cy="612.6" r="2.1"/>
<path d="M299.9 513.3V545.1M299.9 581.3V598.7M294.1 513.3H305.7M294.1 598.7H305.7" class="wk"/>
<rect x="288.6" y="545.1" width="22.6" height="36.2" fill="#FF7F7F" class="bx"/>
<path d="M288.6 563.1H311.2" class="wk"/>
<circle cx="299.9" cy="513.3" r="2.1"/>
<circle cx="299.9" cy="531.8" r="2.1"/>
<circle cx="303.3" cy="544.4" r="2.1"/>
<circle cx="296.7" cy="548" r="2.1"/>
<circle cx="289.9" cy="562.6" r="2.1"/>
<circle cx="296.7" cy="563.4" r="2.1"/>
<circle cx="303.3" cy="566" r="2.1"/>
<circle cx="309.9" cy="564.8" r="2.1"/>
<circle cx="299.9" cy="582" r="2.1"/>
<circle cx="296.7" cy="598.8" r="2.1"/>
<circle cx="303.3" cy="597.7" r="2.1"/>
<path d="M335 569.2V577.7M335 605.3V609M329.2 569.2H340.8M329.2 609H340.8" class="wk"/>
<rect x="323.7" y="577.7" width="22.6" height="27.6" fill="#45F2B3" class="bx"/>
<path d="M323.7 597.7H346.3" class="wk"/>
<circle cx="335" cy="569.2" r="2.1"/>
<circle cx="342.7" cy="575" r="2.1"/>
<circle cx="335" cy="577.2" r="2.1"/>
<circle cx="327.4" cy="597.7" r="2.1"/>
<circle cx="335" cy="596.9" r="2.1"/>
<circle cx="342.7" cy="597.7" r="2.1"/>
<circle cx="335" cy="602" r="2.1"/>
<circle cx="342.7" cy="603.5" r="2.1"/>
<circle cx="335" cy="606.4" r="2.1"/>
<circle cx="342.7" cy="607.9" r="2.1"/>
<circle cx="327.4" cy="609.8" r="2.1"/>
<path d="M393.6 544.6V562.4M393.6 575.3V596.7M387.8 544.6H399.4M387.8 596.7H399.4" class="wk"/>
<rect x="382.3" y="562.4" width="22.6" height="12.9" fill="#FFFFFF" class="bx"/>
<path d="M382.3 567.7H404.9" class="wk"/>
<circle cx="393.6" cy="544.6" r="2.1"/>
<circle cx="393.6" cy="549" r="2.1"/>
<circle cx="393.6" cy="561.7" r="2.1"/>
<circle cx="385.8" cy="565.5" r="2.1"/>
<circle cx="401.2" cy="564.3" r="2.1"/>
<circle cx="393.6" cy="567.5" r="2.1"/>
<circle cx="393.6" cy="572.3" r="2.1"/>
<circle cx="401.2" cy="573.1" r="2.1"/>
<circle cx="393.6" cy="575.3" r="2.1"/>
<circle cx="393.6" cy="580.4" r="2.1"/>
<circle cx="393.6" cy="596.7" r="2.1"/>
<path d="M428.6 519.4V527M428.6 537.2V562.8M422.8 519.4H434.4M422.8 562.8H434.4" class="wk"/>
<rect x="417.3" y="527" width="22.6" height="10.2" fill="#FF7F7F" class="bx"/>
<path d="M417.3 530.4H439.9" class="wk"/>
<circle cx="425.5" cy="520.9" r="2.1"/>
<circle cx="432.1" cy="519.1" r="2.1"/>
<circle cx="432.1" cy="526.4" r="2.1"/>
<circle cx="419" cy="530.4" r="2.1"/>
<circle cx="425.5" cy="530.4" r="2.1"/>
<circle cx="432.1" cy="531.8" r="2.1"/>
<circle cx="438.4" cy="530.1" r="2.1"/>
<circle cx="425.5" cy="538.1" r="2.1"/>
<circle cx="432.1" cy="536.2" r="2.1"/>
<circle cx="428.6" cy="546.1" r="2.1"/>
<circle cx="428.6" cy="562.8" r="2.1"/>
<path d="M463.6 530.4V548.2M463.6 587.2V603.7M457.8 530.4H469.4M457.8 603.7H469.4" class="wk"/>
<rect x="452.3" y="548.2" width="22.6" height="39" fill="#45F2B3" class="bx"/>
<path d="M452.3 561.8H474.9" class="wk"/>
<circle cx="463.6" cy="530.4" r="2.1"/>
<circle cx="463.6" cy="541.3" r="2.1"/>
<circle cx="463.6" cy="547.8" r="2.1"/>
<circle cx="456.2" cy="561.7" r="2.1"/>
<circle cx="463.6" cy="562.1" r="2.1"/>
<circle cx="471.2" cy="559.6" r="2.1"/>
<circle cx="456.2" cy="573.5" r="2.1"/>
<circle cx="463.6" cy="575.3" r="2.1"/>
<circle cx="463.6" cy="588.1" r="2.1"/>
<circle cx="460" cy="603.7" r="2.1"/>
<circle cx="467.6" cy="603.7" r="2.1"/>
</svg>
</body></html>
